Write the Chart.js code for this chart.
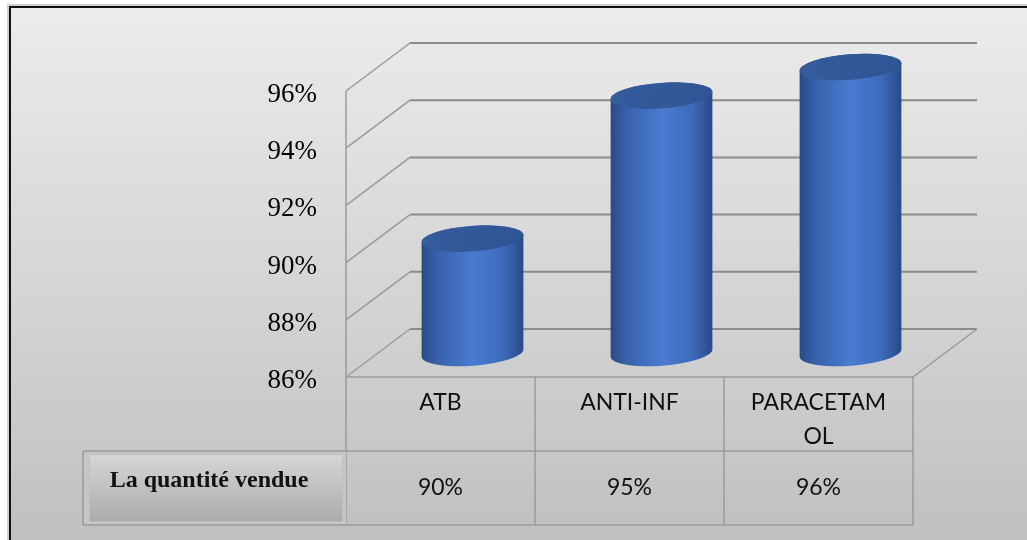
<!DOCTYPE html>
<html>
<head>
<meta charset="utf-8">
<script src="https://cdn.jsdelivr.net/npm/chart.js@4.4.1/dist/chart.umd.min.js"></script>
<style>
  html, body { margin: 0; padding: 0; background: #fff; }
  #wrap { width: 1027px; height: 540px; }
</style>
</head>
<body>
<div id="wrap"><canvas id="chart" width="1027" height="540"></canvas></div>
<script>
var categories = ['ATB', 'ANTI-INF', 'PARACETAMOL'];
var seriesName = 'La quantité vendue';
var quantities = [90, 95, 96];
var yTicks = [86, 88, 90, 92, 94, 96];

// 3D box depth and table geometry
var DX = 64, DY = -48;
var ROW_H = 74;
var HEAD_LEFT = 83;
var CAT_FONT = '23px Lato';

function wrapChars(ctx, text, maxWidth) {
  var lines = [], line = '';
  for (var i = 0; i < text.length; i++) {
    var next = line + text[i];
    if (line && ctx.measureText(next).width > maxWidth) {
      lines.push(line);
      line = text[i];
    } else {
      line = next;
    }
  }
  if (line) lines.push(line);
  return lines;
}

var backdrop = {
  id: 'backdrop',
  beforeDraw: function(chart) {
    var ctx = chart.ctx, w = chart.width, h = chart.height;
    ctx.save();
    ctx.fillStyle = '#fff';
    ctx.fillRect(0, 0, w, h);
    var g = ctx.createLinearGradient(0, 7, 0, h);
    g.addColorStop(0, '#ececec');
    g.addColorStop(1, '#c0c0c0');
    ctx.fillStyle = g;
    ctx.fillRect(10, 7, w - 10, h - 7);
    ctx.strokeStyle = '#d0d0d0';
    ctx.lineWidth = 2;
    ctx.beginPath();
    ctx.moveTo(8, h); ctx.lineTo(8, 5); ctx.lineTo(w, 5);
    ctx.stroke();
    ctx.strokeStyle = '#111';
    ctx.lineWidth = 2;
    ctx.beginPath();
    ctx.moveTo(10, h); ctx.lineTo(10, 7); ctx.lineTo(w, 7);
    ctx.stroke();
    ctx.restore();
  }
};

var walls = {
  id: 'walls',
  beforeDatasetsDraw: function(chart) {
    var ctx = chart.ctx, ys = chart.scales.y, a = chart.chartArea;
    ctx.save();
    ys.ticks.forEach(function(t) {
      var y = ys.getPixelForValue(t.value);
      ctx.strokeStyle = '#9a9a9a';
      ctx.lineWidth = 1.5;
      ctx.beginPath();
      ctx.moveTo(a.left, y);
      ctx.lineTo(a.left + DX, y + DY);
      ctx.stroke();
      ctx.strokeStyle = '#8c8c8c';
      ctx.lineWidth = 2;
      ctx.beginPath();
      ctx.moveTo(a.left + DX, y + DY);
      ctx.lineTo(a.right + DX, y + DY);
      ctx.stroke();
      if (t.value === ys.min) {
        ctx.strokeStyle = '#9a9a9a';
        ctx.lineWidth = 1.5;
        ctx.beginPath();
        ctx.moveTo(a.right + DX, y + DY);
        ctx.lineTo(a.right, y);
        ctx.lineTo(a.left, y);
        ctx.stroke();
      }
    });
    // front vertical edge, down through the table
    ctx.strokeStyle = '#9a9a9a';
    ctx.lineWidth = 1.5;
    ctx.beginPath();
    ctx.moveTo(a.left, a.top);
    ctx.lineTo(a.left, a.bottom + 2 * ROW_H);
    ctx.stroke();
    ctx.restore();
  }
};

function drawCylinder(ctx, cx, ty, by, rx, ry, rot) {
  var body = ctx.createLinearGradient(cx - rx, 0, cx + rx, 0);
  body.addColorStop(0, '#2a4a86');
  body.addColorStop(0.15, '#3760aa');
  body.addColorStop(0.5, '#4a7bd0');
  body.addColorStop(0.8, '#3e6bbc');
  body.addColorStop(1, '#2a4985');
  ctx.beginPath();
  ctx.ellipse(cx, by, rx, ry, rot, Math.PI, 0, true);
  ctx.ellipse(cx, ty, rx, ry, rot, 0, Math.PI, true);
  ctx.closePath();
  ctx.fillStyle = body;
  ctx.fill();
  var top = ctx.createLinearGradient(cx - rx, ty - ry, cx + rx, ty + ry);
  top.addColorStop(0, '#365c9e');
  top.addColorStop(1, '#2f5493');
  ctx.beginPath();
  ctx.ellipse(cx, ty, rx, ry, rot, 0, Math.PI * 2);
  ctx.fillStyle = top;
  ctx.fill();
}

var cylinders = {
  id: 'cylinders',
  afterDatasetsDraw: function(chart) {
    var ctx = chart.ctx, ys = chart.scales.y;
    var floorY = ys.getPixelForValue(ys.min);
    ctx.save();
    chart.getDatasetMeta(0).data.forEach(function(bar) {
      var rx = bar.width / 2;
      drawCylinder(ctx, bar.x + DX / 2, bar.y + DY / 2, floorY + DY / 2, rx, rx * 0.25, -0.075);
    });
    ctx.restore();
  }
};

var dataTable = {
  id: 'dataTable',
  afterDraw: function(chart) {
    var ctx = chart.ctx, xs = chart.scales.x, a = chart.chartArea;
    var band = (a.right - a.left) / categories.length;
    var r0 = a.bottom, r1 = r0 + ROW_H, r2 = r1 + ROW_H;
    ctx.save();

    // series header cell
    ctx.fillStyle = '#c6c6c6';
    ctx.fillRect(HEAD_LEFT, r1, a.left - HEAD_LEFT, ROW_H);
    var hg = ctx.createLinearGradient(0, r1, 0, r2);
    hg.addColorStop(0, '#d8d8d8');
    hg.addColorStop(1, '#a9a9a9');
    ctx.fillStyle = hg;
    ctx.fillRect(HEAD_LEFT + 6, r1 + 3, a.left - HEAD_LEFT - 9, ROW_H - 6);
    ctx.strokeStyle = '#bebebe';
    ctx.lineWidth = 1;
    ctx.strokeRect(HEAD_LEFT + 6.5, r1 + 3.5, a.left - HEAD_LEFT - 10, ROW_H - 7);

    ctx.strokeStyle = '#9a9a9a';
    ctx.lineWidth = 1.5;
    ctx.beginPath();
    ctx.moveTo(HEAD_LEFT, r1); ctx.lineTo(a.right, r1);
    ctx.moveTo(HEAD_LEFT, r2); ctx.lineTo(a.right, r2);
    ctx.moveTo(HEAD_LEFT, r1); ctx.lineTo(HEAD_LEFT, r2);
    categories.forEach(function(c, i) {
      var xr = xs.getPixelForValue(i) + band / 2;
      ctx.moveTo(xr, r0); ctx.lineTo(xr, r2);
    });
    ctx.stroke();

    ctx.fillStyle = '#111';
    ctx.font = 'bold 24px "Liberation Serif"';
    ctx.textAlign = 'center';
    ctx.textBaseline = 'middle';
    ctx.fillText(chart.data.datasets[0].label, 209, r1 + 30);

    ctx.font = CAT_FONT;
    categories.forEach(function(c, i) {
      var cx = xs.getPixelForValue(i);
      var lines = wrapChars(ctx, c, band - 44);
      lines.forEach(function(l, k) {
        ctx.fillText(l, cx, r0 + 26 + k * 34);
      });
      ctx.fillText(chart.data.datasets[0].data[i] + '%', cx, r1 + ROW_H / 2);
    });
    ctx.restore();
  }
};

new Chart(document.getElementById('chart'), {
  type: 'bar',
  data: {
    labels: categories,
    datasets: [{
      label: seriesName,
      data: quantities,
      base: yTicks[0],
      backgroundColor: 'rgba(0,0,0,0)',
      borderWidth: 0,
      categoryPercentage: 1,
      barPercentage: 0.54
    }]
  },
  options: {
    responsive: false,
    animation: false,
    events: [],
    layout: { padding: { left: 0, top: 91, right: 114, bottom: 163 } },
    plugins: {
      legend: { display: false },
      tooltip: { enabled: false }
    },
    scales: {
      x: { display: false },
      y: {
        min: yTicks[0],
        max: yTicks[yTicks.length - 1],
        afterFit: function(scale) { scale.width = 346; },
        grid: { display: false, drawTicks: false, tickLength: 0 },
        border: { display: false },
        ticks: {
          stepSize: yTicks[1] - yTicks[0],
          padding: 29,
          labelOffset: 4,
          color: '#000',
          font: { family: '"Liberation Serif"', size: 27 },
          callback: function(v) { return v + '%'; }
        }
      }
    }
  },
  plugins: [backdrop, walls, cylinders, dataTable]
});
</script>
</body>
</html>
